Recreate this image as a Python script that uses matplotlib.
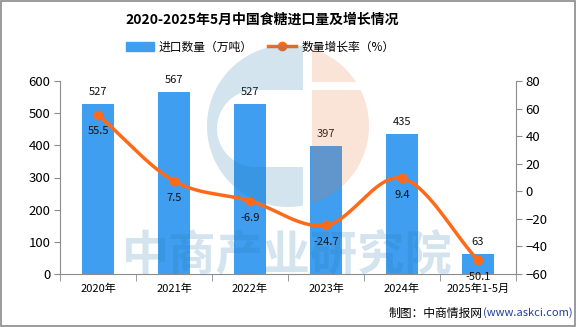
import matplotlib
matplotlib.use("Agg")
import matplotlib.pyplot as plt
import numpy as np
from matplotlib.patches import Polygon, Rectangle
from matplotlib.lines import Line2D

plt.rcParams['font.family'] = ['Noto Sans CJK SC', 'DejaVu Sans']

categories = ["2020年", "2021年", "2022年", "2023年", "2024年", "2025年1-5月"]
imports = [527, 567, 527, 397, 435, 63]
growth = [55.5, 7.5, -6.9, -24.7, 9.4, -50.1]

BAR_C = "#3f9ef0"
LINE_C = "#ff6a1a"
AX_C = "#8c8c8c"

fig = plt.figure(figsize=(5.76, 3.27), dpi=100)
fig.patch.set_facecolor("white")
fig.patches.append(plt.Rectangle((0.001, 0.002), 0.997, 0.995, transform=fig.transFigure,
                                 fill=False, edgecolor="#8a8a8a", lw=1.2))

ax = fig.add_axes([60/576, 1-274/327, 456/576, 193/327])
ax2 = ax.twinx()

x = np.arange(len(categories))
ax.bar(x, imports, width=0.41, color=BAR_C, zorder=2)
for xi, v in zip(x, imports):
    ax.text(xi, v + 22, f"{v}", ha="center", va="bottom", fontsize=8, color="#111111")

ax.set_xlim(-0.5, len(categories) - 0.5)
ax.set_ylim(0, 600)
ax.set_yticks(range(0, 601, 100))
ax.set_xticks(x)
ax.set_xticklabels(categories, fontsize=8)
ax.set_xticks(np.arange(-0.5, len(categories), 1), minor=True)
ax.tick_params(axis="x", which="major", length=0, pad=7)
ax.tick_params(axis="x", which="minor", length=5, color=AX_C, direction="out")
ax.tick_params(axis="y", labelsize=9.5, length=4, color=AX_C, pad=3)

# smooth line through points (Catmull-Rom rendering)
def catmull(xs, ys, n=30):
    px = np.concatenate([[2*xs[0]-xs[1]], xs, [2*xs[-1]-xs[-2]]])
    py = np.concatenate([[2*ys[0]-ys[1]], ys, [2*ys[-1]-ys[-2]]])
    ox, oy = [], []
    for i in range(1, len(px) - 2):
        t = np.linspace(0, 1, n, endpoint=False)
        for arr, out in ((px, ox), (py, oy)):
            p0, p1, p2, p3 = arr[i-1], arr[i], arr[i+1], arr[i+2]
            out.extend(0.5*((2*p1) + (-p0+p2)*t + (2*p0-5*p1+4*p2-p3)*t**2 + (-p0+3*p1-3*p2+p3)*t**3))
    ox.append(xs[-1]); oy.append(ys[-1])
    return np.array(ox), np.array(oy)

sx, sy = catmull(x.astype(float), np.array(growth, dtype=float))
ax2.plot(sx, sy, color=LINE_C, lw=2.5, solid_capstyle="round")
ax2.plot(x, growth, "o", color=LINE_C, ms=6)
for xi, v in zip(x, growth):
    ax2.text(xi, v - 8.5, f"{v}", ha="center", va="top", fontsize=8, color="#111111")
ax2.set_ylim(-60, 80)
ax2.set_yticks(range(-60, 81, 20))
ax2.tick_params(axis="y", labelsize=9.5, length=4, color=AX_C, pad=3)

for a in (ax, ax2):
    a.spines["top"].set_visible(False)
    for s in ("left", "right", "bottom"):
        a.spines[s].set_color(AX_C)
ax.spines["right"].set_visible(False)
ax2.spines["left"].set_visible(False)
ax2.spines["bottom"].set_visible(False)

# translucent watermark on top (pixel coordinates)
wm = fig.add_axes([0, 0, 1, 1], zorder=10)
wm.set_xlim(0, 576); wm.set_ylim(327, 0); wm.axis("off")
wm.patch.set_visible(False)
cx, cy, r = 288, 126, 81
gx1, gx2 = 303, 312
dy = np.sqrt(r**2 - (gx1 - cx)**2)
a0 = np.arctan2(-dy, gx1 - cx)
a1 = np.arctan2(dy, gx1 - cx)
ang = np.linspace(a0, a0 - (2*np.pi - (a1 - a0)), 120)
outer = np.column_stack([cx + r*np.cos(ang), cy + r*np.sin(ang)])
yt, yb = 90, 167
rr = (yb - yt) / 2
xl = 217 + rr
semi = np.linspace(np.pi/2, 3*np.pi/2, 60)
inner = np.vstack([[[gx1, yb], [xl, yb]],
                   np.column_stack([xl + rr*np.cos(semi), (yt+yb)/2 + rr*np.sin(semi)]),
                   [[xl, yt], [gx1, yt]]])
blue_poly = np.vstack([outer, inner])
wm.add_patch(Polygon(blue_poly, closed=True, facecolor=(35/255, 120/255, 175/255), alpha=0.2, edgecolor="none"))
def seg(y0, y1):
    ys = np.linspace(y0, y1, 80)
    xs = cx + np.sqrt(np.clip(r**2 - (ys - cy)**2, 0, None))
    pts = np.column_stack([xs, ys])
    pts = pts[xs >= gx2]
    return np.vstack([[[gx2, pts[0, 1]]], pts, [[gx2, pts[-1, 1]]]])
for y0, y1 in ((cy - r, 82), (90, cy + r)):
    wm.add_patch(Polygon(seg(y0, y1), closed=True, facecolor=(232/255, 118/255, 58/255), alpha=0.2, edgecolor="none"))
wm.text(287, 255, "中商产业研究院", fontsize=34, color=(35/255, 120/255, 175/255), alpha=0.2,
        ha="center", va="center", fontweight="bold")

fig.text(262/576, 1-20/327, "2020-2025年5月中国食糖进口量及增长情况", ha="center", va="center",
         fontsize=10, fontweight="bold")

handles = [Rectangle((0, 0), 1, 1, color=BAR_C),
           Line2D([0], [0], color=LINE_C, lw=2.5, marker="o", ms=6)]
fig.legend(handles, ["进口数量（万吨）", "数量增长率（%）"], loc="center", ncol=2,
           bbox_to_anchor=(260/576, 1-47/327), frameon=False, fontsize=8.5,
           handlelength=2.4, columnspacing=1.3, handletextpad=0.4)

fig.text(1-93/576, 1-313/327, "制图：中商情报网", ha="right", va="center", fontsize=8.5)
fig.text(1-93/576, 1-313/327, "(www.askci.com)", ha="left", va="center", fontsize=8, color="#1f3f9f")

fig.savefig("out.png", dpi=100)
